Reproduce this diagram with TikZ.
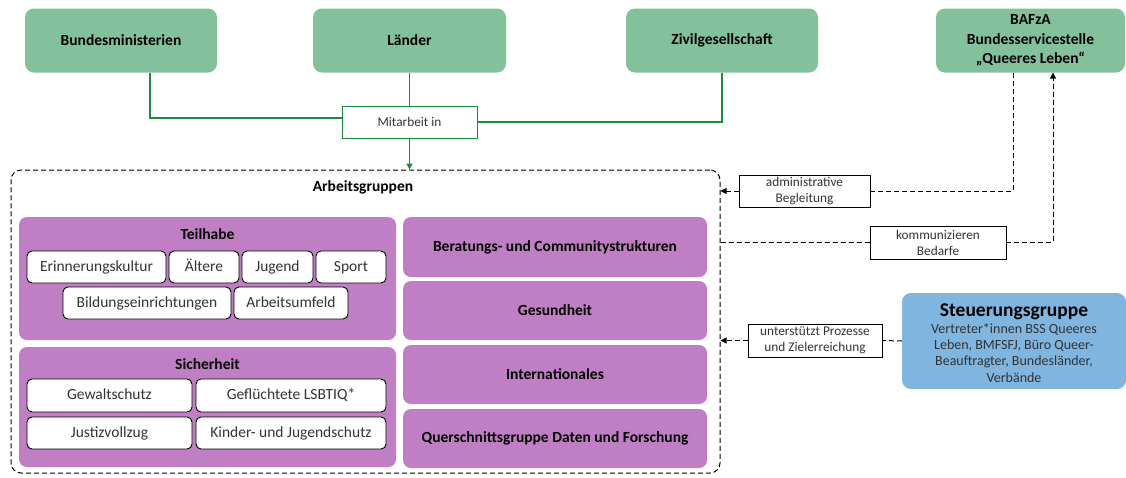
\documentclass[tikz,border=0pt]{standalone}
\usepackage{fontspec}
\setmainfont{Carlito}
\usetikzlibrary{arrows.meta,calc}
\definecolor{topgreen}{HTML}{82C19B}
\definecolor{agpurple}{HTML}{C07FC5}
\definecolor{stblue}{HTML}{7FB5DE}
\definecolor{lgreen}{HTML}{1A8C3C}
\definecolor{lteal}{HTML}{1B7C8A}
\definecolor{txtgray}{HTML}{333333}
\tikzset{
  topbox/.style={fill=topgreen, rounded corners=9pt, inner sep=0pt, align=center,
    font=\fontsize{15.5}{19.5}\selectfont\bfseries},
  groupbox/.style={fill=agpurple, rounded corners=8pt, inner sep=0pt},
  grouptitle/.style={inner sep=0pt, font=\fontsize{15.5}{18}\selectfont\bfseries},
  colbox/.style={fill=agpurple, rounded corners=8pt, inner sep=0pt, minimum width=304pt,
    font=\fontsize{15.5}{18}\selectfont\bfseries},
  subbox/.style={fill=white, draw=black, line width=0.9pt, rounded corners=5pt, inner sep=0pt,
    text height=11pt, text depth=3pt,
    font=\fontsize{15.5}{18}\selectfont, text=txtgray},
  lblbox/.style={fill=white, draw=black, line width=0.9pt, inner sep=0pt, align=center,
    font=\fontsize{13.3}{16}\selectfont, text=txtgray},
  dashline/.style={line width=1pt, dash pattern=on 5pt off 3pt},
  tip/.style={-{Triangle[length=6pt,width=6pt]}},
}
\begin{document}
\begin{tikzpicture}[x=1pt,y=-1pt]
\useasboundingbox (0,0) rectangle (1126,477);

% top boxes
\node[topbox, minimum width=192pt, minimum height=64pt] (bm) at (121,40.5) {Bundesministerien};
\node[topbox, minimum width=193pt, minimum height=64pt] (la) at (409.5,40.5) {Länder};
\node[topbox, minimum width=192pt, minimum height=64pt] (zg) at (722,40.5) {Zivilgesellschaft};
\node[topbox, minimum width=189pt, minimum height=64pt] (bz) at (1030.5,40.5) {BAFzA\\Bundesservicestelle\\„Queeres Leben“};

% Mitarbeit in
\node[lblbox, draw=lgreen, minimum width=135pt, minimum height=32pt] (mit) at (409.5,122) {Mitarbeit in};

% dashed frame
\node[draw, dashline, rounded corners=10pt, minimum width=709pt, minimum height=303pt, inner sep=0pt] (ag) at (365.5,321.5) {};
\node[grouptitle] (agt) at (363,187) {Arbeitsgruppen};

% connectors top
\draw[lgreen, line width=1.8pt] ([xshift=29pt]bm.south) |- ([yshift=4pt]mit.west);
\draw[lteal, line width=1.8pt] (la.south) -- (mit.north);
\draw[lgreen, line width=1.8pt] (zg.south) |- (mit.east);
\draw[lgreen, line width=1.8pt, tip] (mit.south) -- (mit.south |- ag.north);

% Teilhabe
\node[groupbox, minimum width=377pt, minimum height=123pt] (th) at (207.5,278.5) {};
\node[grouptitle] (tht) at (207.5,234) {Teilhabe};
\node[subbox, minimum width=139pt, minimum height=32pt] (ek) at (96.5,267) {Erinnerungskultur};
\node[subbox, minimum width=70pt, minimum height=32pt] (al) at (204,267) {Ältere};
\node[subbox, minimum width=71pt, minimum height=32pt] (ju) at (277.5,267) {Jugend};
\node[subbox, minimum width=70pt, minimum height=32pt] (sp) at (351,267) {Sport};
\node[subbox, minimum width=168pt, minimum height=32pt] (bi) at (147,303) {Bildungseinrichtungen};
\node[subbox, minimum width=114pt, minimum height=32pt] (ar) at (291,303) {Arbeitsumfeld};

% Sicherheit
\node[groupbox, minimum width=377pt, minimum height=120pt] (si) at (207.5,407) {};
\node[grouptitle] (sit) at (207.5,364) {Sicherheit};
\node[subbox, minimum width=165pt, minimum height=33pt] (gw) at (109.5,395.5) {Gewaltschutz};
\node[subbox, minimum width=190pt, minimum height=33pt] (gf) at (291,395.5) {Geflüchtete LSBTIQ*};
\node[subbox, minimum width=165pt, minimum height=32pt] (jv) at (109.5,433) {Justizvollzug};
\node[subbox, minimum width=190pt, minimum height=32pt] (ki) at (291,433) {Kinder- und Jugendschutz};

% right column
\node[colbox, minimum height=60pt] (be) at (555,247) {Beratungs- und Communitystrukturen};
\node[colbox, minimum height=59pt] (ge) at (555,310.5) {Gesundheit};
\node[colbox, minimum height=59pt] (in) at (555,374.5) {Internationales};
\node[colbox, minimum height=59pt] (qu) at (555,438.5) {Querschnittsgruppe Daten und Forschung};

% Steuerungsgruppe
\node[fill=stblue, rounded corners=9pt, inner sep=0pt, minimum width=224pt, minimum height=96pt] (st) at (1014,341) {};
\node[inner sep=0pt, font=\fontsize{19.5}{20}\selectfont\bfseries] (stt) at (1014,312) {Steuerungsgruppe};
\node[inner sep=0pt, align=center, font=\fontsize{14}{16.3}\selectfont, text=txtgray, anchor=north] (stb) at (1014,323)
  {Vertreter*innen BSS Queeres\\Leben, BMFSFJ, Büro Queer-\\Beauftragter, Bundesländer,\\Verbände};

% label boxes on the right
\node[lblbox, minimum width=131pt, minimum height=32pt] (adm) at (804.5,191) {administrative\\Begleitung};
\node[lblbox, minimum width=136pt, minimum height=33pt] (kom) at (938,242.5) {kommunizieren\\Bedarfe};
\node[lblbox, minimum width=134pt, minimum height=33pt] (unt) at (815,340.5) {unterstützt Prozesse\\und Zielerreichung};

% dashed connectors
\draw[dashline] ([xshift=-17.5pt]bz.south) |- (adm.east);
\draw[dashline, tip] (adm.west) -- (adm.west -| ag.east);
\draw[dashline] (kom.west -| ag.east) -- (kom.west);
\draw[dashline, tip] (kom.east) -| ([xshift=22.5pt]bz.south);
\draw[dashline] (st.west) -- (unt.east);
\draw[dashline, tip] (unt.west) -- (unt.west -| ag.east);
\end{tikzpicture}
\end{document}
